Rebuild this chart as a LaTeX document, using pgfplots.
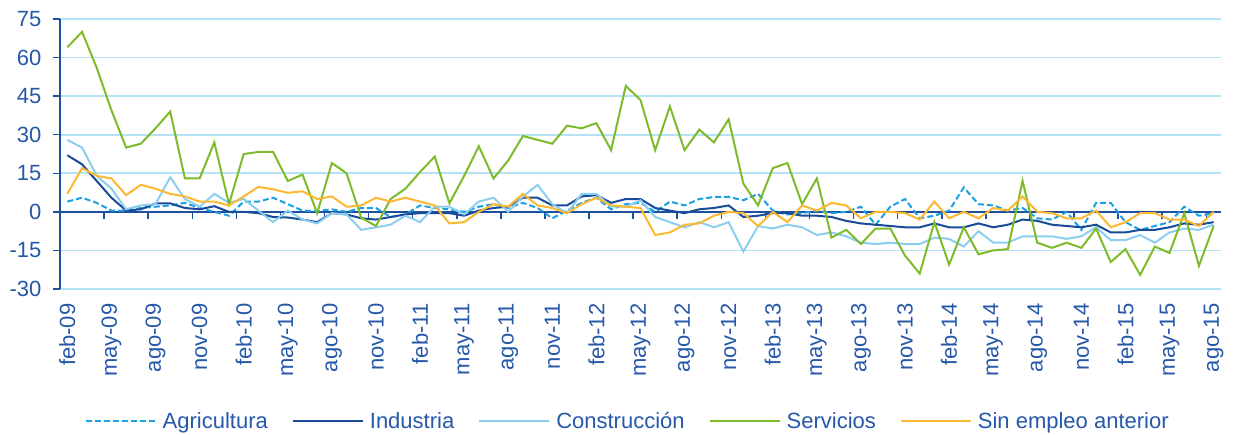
\documentclass[border=0pt]{standalone}
\usepackage{fontspec}
\setmainfont{Liberation Sans}
\usepackage{pgfplots}
\pgfplotsset{compat=1.18}
\usepackage{pgfplotstable}
\definecolor{gridblue}{RGB}{180,226,246}
\definecolor{axisblue}{RGB}{30,80,160}
\definecolor{textblue}{RGB}{38,88,170}
\definecolor{agr}{RGB}{27,160,226}
\definecolor{ind}{RGB}{25,75,155}
\definecolor{con}{RGB}{140,206,240}
\definecolor{ser}{RGB}{125,187,43}
\definecolor{sin}{RGB}{251,184,48}

\pgfplotstableread{
x agr ind con ser sin
0 4 22 28 64 7
1 5.5 18.5 25 70 17
2 3.5 12 14 56 14
3 0.5 5.5 9 39.5 13
4 0.5 0.5 1 25 6.5
5 1.5 1 2.5 26.5 10.5
6 2 3.3 3 32.5 9
7 2.5 3.3 13.5 39 7
8 3.5 1.5 5 13 6
9 1.5 1 2 13 4
10 0 2.2 7 27 4
11 -1.5 0 3.5 3 2.5
12 4 0 5 22.5 6
13 4 -0.5 0.5 23.3 9.7
14 5.5 -2 -4 23.3 8.8
15 3 -2.2 0.5 12 7.4
16 0.5 -3 -3 14.5 8
17 0.3 -4 -4.5 -0.5 5
18 1 -0.5 -0.5 19 6
19 0 -1 -1 15 2
20 1.5 -2.5 -7 -2.3 2.5
21 1.5 -3 -6 -5.5 5.5
22 -2 -2 -5 5 4
23 -1 -1 -1.5 9 5.5
24 2.5 -0.5 -4 15.5 4
25 1.5 -0.5 2 21.5 2.5
26 1 -0.5 2 3.3 -4.5
27 0 -1.5 -1 14 -4
28 2 0.5 4 25.5 0
29 3 1.5 5.5 13 3
30 1.5 2 0 20 2
31 3.5 5.5 6 29.5 7
32 1.5 5.5 10.5 28 2.5
33 -2.5 2.5 3 26.5 1.5
34 0.5 2.5 -0.5 33.5 -0.5
35 3.5 6 7 32.5 3
36 5.5 6.5 7 34.5 5.5
37 1 3.5 2 24 2.5
38 3 5 2 49 2
39 3.5 5 4.5 43.5 1.5
40 0 1.5 -2 24 -9
41 4 0.5 -4 41 -8
42 2.5 -0.5 -6 24 -5
43 5 1 -4 32 -4.5
44 5.8 1.5 -6 27 -1.5
45 5.8 2.5 -4 36 0
46 4.5 -2 -15.5 11 -0.5
47 7 -1.5 -5.5 2.5 -5.5
48 0.5 -0.5 -6.5 17 0
49 -1 -0.5 -5 19 -4
50 -0.5 -1.5 -6 3 2.5
51 0.5 -1.5 -9 13 0.5
52 -0.5 -2 -8 -10 3.5
53 0 -3.5 -9.5 -7 2.5
54 2 -4.5 -12 -12.5 -2.5
55 -5 -5 -12.5 -6.5 0
56 2 -5.5 -12 -6.5 0
57 5 -6 -12.5 -17 -0.5
58 -2.5 -6 -12.5 -24 -3
59 -1.5 -4.5 -10 -4 4
60 0.5 -6 -10.5 -20.5 -2.5
61 9.5 -6 -13.5 -6 0
62 3 -4.5 -7.5 -16.5 -2.5
63 2.5 -6 -12 -15 1.5
64 0.5 -5 -12 -14.5 0.5
65 1.5 -3 -9.5 12 6
66 -2.5 -3.5 -9.5 -12 0
67 -3 -5 -9.5 -14 -0.5
68 0 -5.5 -10.5 -12 -2.5
69 -7 -6 -9.5 -14 -2.5
70 3.5 -5 -6 -6.5 0.5
71 3.5 -8 -11 -19.5 -6
72 -4 -8 -11 -14.5 -4
73 -7 -7 -9 -24.5 -0.5
74 -5.5 -7 -12 -13.5 -0.5
75 -4 -6 -8 -16 -3
76 2 -4.5 -6.5 -0.5 -3
77 -1.5 -5 -7 -21 -5.5
78 -0.5 -4 -5 -5.5 0
}\datatable

\begin{document}
\begin{tikzpicture}[x=1pt,y=1pt]
\useasboundingbox (-60,-145) rectangle (1176,289);
\begin{axis}[
  at={(0,0)}, anchor=south west,
  scale only axis, width=1161pt, height=270pt,
  xmin=-0.5, xmax=78.5, ymin=-30, ymax=75,
  axis y line*=left, axis x line*=bottom,
  x axis line style={draw=none},
  y axis line style={axisblue, line width=1.5pt},
  ytick={-30,-15,0,15,30,45,60,75},
  yticklabels={-30,-15,0,15,30,45,60,75},
  ymajorgrids, grid style={gridblue, line width=1.8pt},
  ytick style={axisblue, line width=1.5pt},
  ytick align=outside, major tick length=7pt,
  xtick={0,3,...,78},
  xticklabels={feb-09,may-09,ago-09,nov-09,feb-10,may-10,ago-10,nov-10,feb-11,may-11,ago-11,nov-11,feb-12,may-12,ago-12,nov-12,feb-13,may-13,ago-13,nov-13,feb-14,may-14,ago-14,nov-14,feb-15,may-15,ago-15},
  x tick style={draw=none},
  xticklabel style={rotate=90, anchor=east},
  xticklabel shift=11pt,
  yticklabel shift=8pt,
  tick label style={font=\fontsize{22}{26}\selectfont, text=textblue},
  legend columns=5,
  legend style={draw=none, fill=none, at={(0.489,-0.489)}, anchor=center,
    font=\fontsize{22}{26}\selectfont, text=textblue,
    /tikz/every even column/.append style={column sep=22pt}},
  legend image code/.code={\draw[#1] (0pt,0pt) -- (70pt,0pt);},
]
\draw[axisblue, line width=2pt] (axis cs:-0.5,0) -- (axis cs:78.5,0);
\pgfplotsinvokeforeach{2.5,5.5,8.5,11.5,14.5,17.5,20.5,23.5,26.5,29.5,32.5,35.5,38.5,41.5,44.5,47.5,50.5,53.5,56.5,59.5,62.5,65.5,68.5,71.5,74.5,77.5}{
  \draw[axisblue, line width=1.5pt] (axis cs:#1,0) -- ++(0pt,-7pt);
}
\addplot[agr, line width=2pt, dash pattern=on 6pt off 3pt] table[x=x,y=agr] {\datatable};
\addlegendentry{\hspace{4pt}Agricultura}
\addplot[ind, line width=2pt] table[x=x,y=ind] {\datatable};
\addlegendentry{\hspace{4pt}Industria}
\addplot[con, line width=2pt] table[x=x,y=con] {\datatable};
\addlegendentry{\hspace{4pt}Construcción}
\addplot[ser, line width=2pt] table[x=x,y=ser] {\datatable};
\addlegendentry{\hspace{4pt}Servicios}
\addplot[sin, line width=2pt] table[x=x,y=sin] {\datatable};
\addlegendentry{\hspace{4pt}Sin empleo anterior}
\end{axis}
\end{tikzpicture}
\end{document}
